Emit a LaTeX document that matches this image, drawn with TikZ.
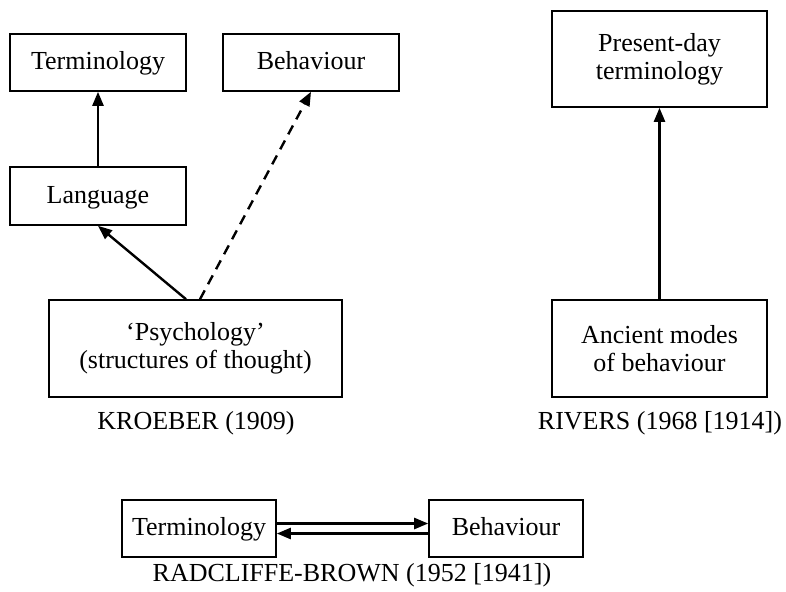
\documentclass[tikz,border=0pt]{standalone}
\usepackage{fontspec}
\setmainfont{Liberation Serif}
\usetikzlibrary{arrows.meta}
\tikzset{
	box/.style={draw, line width=0.8pt, align=center, inner sep=0pt, font=\fontsize{13}{14}\selectfont},
	onebox/.style={box, text height=10pt, text depth=3pt},
	caption/.style={font=\fontsize{13}{14}\selectfont},
	link/.style={line width=1.2pt, -{Triangle[length=7pt,width=5.5pt]}}
}

\begin{document}
\begin{tikzpicture}[x=0.5pt, y=-0.5pt]
			%%%%% START %%%%%
			\useasboundingbox (0, 0) rectangle (786, 591);
			
			% Kroeber
			\node[onebox, minimum width=88pt, minimum height=28.5pt] (kterm) at (98, 62.5) {Terminology};
			\node[onebox, minimum width=88pt, minimum height=28.5pt] (kbehav) at (311, 62.5) {Behaviour};
			\node[onebox, minimum width=88pt, minimum height=29pt] (klang) at (98, 196) {Language};
			\node[box, minimum width=146.5pt, minimum height=48.5pt] (kpsych) at (195.5, 348.5) {`Psychology'\\(structures of thought)};
			\node[caption] (kroeber) at (196, 423) {KROEBER (1909)};
			
			\draw[link] (klang) -- (kterm);
			\draw[link] ([xshift=-4.75pt]kpsych.north) -- (klang.south);
			\draw[link, dash pattern=on 5pt off 3.5pt] ([xshift=2.25pt]kpsych.north) -- (kbehav.south);
			
			% Rivers
			\node[box, minimum width=107.5pt, minimum height=48pt] (rpresent) at (659.5, 59) {Present-day\\terminology};
			\node[box, minimum width=107.5pt, minimum height=48.5pt] (rancient) at (659.5, 348.5) {Ancient modes\\of behaviour};
			\node[caption] (rivers) at (660, 423) {RIVERS (1968 [1914])};
			
			\draw[link] (rancient) -- (rpresent);
			
			% Radcliffe-Brown
			\node[onebox, minimum width=77pt, minimum height=28.5pt] (bterm) at (199, 528.5) {Terminology};
			\node[onebox, minimum width=77pt, minimum height=28.5pt] (bbehav) at (506, 528.5) {Behaviour};
			\node[caption] (radcliffe) at (352, 575) {RADCLIFFE-BROWN (1952 [1941])};
			
			\draw[link] ([yshift=2.5pt]bterm.east) -- ([yshift=2.5pt]bbehav.west);
			\draw[link] ([yshift=-2.5pt]bbehav.west) -- ([yshift=-2.5pt]bterm.east);
			%%%%% END %%%%%
\end{tikzpicture}
\end{document}
